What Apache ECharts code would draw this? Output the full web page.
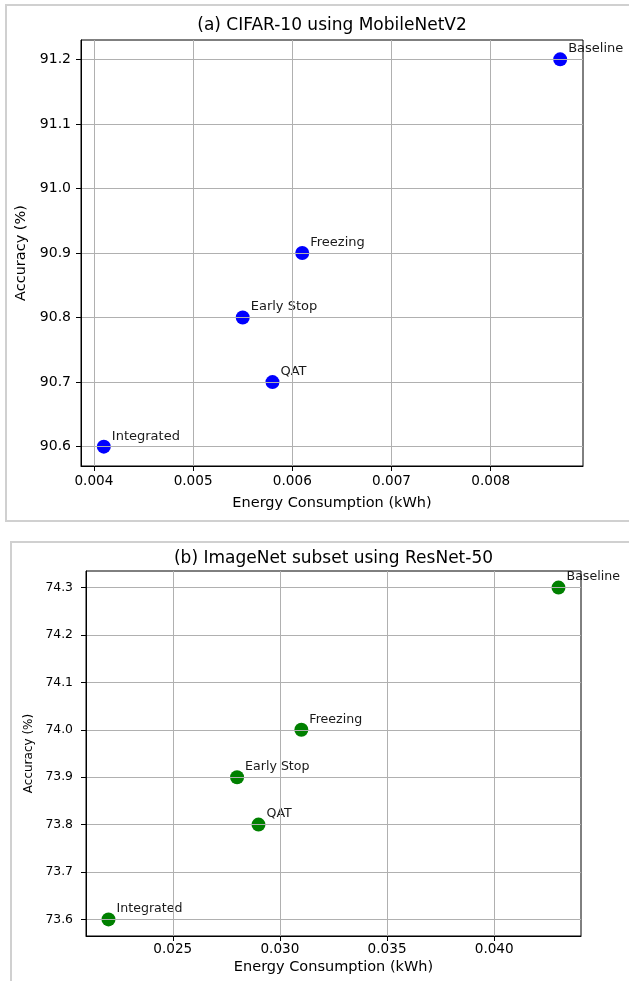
<!DOCTYPE html>
<html>
<head>
<meta charset="utf-8">
<script src="https://cdn.jsdelivr.net/npm/echarts@6/dist/echarts.min.js"></script>
<style>
html,body{margin:0;padding:0;background:#fff;}
#chart{width:629px;height:981px;}
</style>
</head>
<body>
<div id="chart"></div>
<script>
const methods = ['Baseline', 'Freezing', 'Early Stop', 'QAT', 'Integrated'];
const cifarEnergy = [0.0087, 0.0061, 0.0055, 0.0058, 0.0041];
const cifarAcc = [91.2, 90.9, 90.8, 90.7, 90.6];
const imagenetEnergy = [0.043, 0.031, 0.028, 0.029, 0.022];
const imagenetAcc = [74.3, 74.0, 73.9, 73.8, 73.6];

const cifarXTicks = [0.004, 0.005, 0.006, 0.007, 0.008];
const cifarYTicks = [90.6, 90.7, 90.8, 90.9, 91.0, 91.1, 91.2];
const imagenetXTicks = [0.025, 0.030, 0.035, 0.040];
const imagenetYTicks = [73.6, 73.7, 73.8, 73.9, 74.0, 74.1, 74.2, 74.3];

const titleA = '(a) CIFAR-10 using MobileNetV2';
const titleB = '(b) ImageNet subset using ResNet-50';
const xName = 'Energy Consumption (kWh)';
const yName = 'Accuracy (%)';

const FONT = 'DejaVu Sans';

function pts(xs, ys) {
  return xs.map((x, i) => ({ value: [x, ys[i]], name: methods[i] }));
}

function xAxis(idx, min, max, ticks, labelSize, labelMargin, nameGap, nameSize) {
  return {
    type: 'value', gridIndex: idx, min: min, max: max, z: 5,
    name: xName, nameLocation: 'middle', nameGap: nameGap,
    nameTextStyle: { fontFamily: FONT, fontSize: nameSize, color: '#000' },
    axisLine: { show: true, onZero: false, lineStyle: { color: '#000', width: 1 } },
    axisTick: { show: true, length: 5, lineStyle: { color: '#000', width: 1 }, customValues: ticks },
    axisLabel: { fontFamily: FONT, fontSize: labelSize, color: '#000', margin: labelMargin,
      customValues: ticks, formatter: v => Number(v).toFixed(3) },
    splitLine: { show: true, lineStyle: { color: '#b0b0b0', width: 1 }, customValues: ticks }
  };
}
function yAxis(idx, min, max, ticks, labelSize, labelMargin, nameGap, nameSize) {
  return {
    type: 'value', gridIndex: idx, min: min, max: max, z: 5,
    name: yName, nameLocation: 'middle', nameGap: nameGap,
    nameTextStyle: { fontFamily: FONT, fontSize: nameSize, color: '#000' },
    axisLine: { show: true, onZero: false, lineStyle: { color: '#000', width: 1 } },
    axisTick: { show: true, length: 5, lineStyle: { color: '#000', width: 1 }, customValues: ticks },
    axisLabel: { fontFamily: FONT, fontSize: labelSize, color: '#000', margin: labelMargin,
      customValues: ticks, formatter: v => Number(v).toFixed(1) },
    splitLine: { show: true, lineStyle: { color: '#b0b0b0', width: 1 }, customValues: ticks }
  };
}
function series(idx, data, color, labelSize) {
  return {
    type: 'scatter', xAxisIndex: idx, yAxisIndex: idx, z: 2,
    symbol: 'circle', symbolSize: 14,
    itemStyle: { color: color, opacity: 1 },
    data: data,
    label: {
      show: true, formatter: p => p.name, position: [15, 3],
      align: 'left', verticalAlign: 'bottom',
      fontFamily: FONT, fontSize: labelSize, color: '#1a1a1a'
    },
    emphasis: { disabled: true }
  };
}

const chart = echarts.init(document.getElementById('chart'), null, { renderer: 'canvas' });
chart.setOption({
  animation: false,
  backgroundColor: '#fff',
  graphic: [
    { type: 'rect', shape: { x: 6, y: 5, width: 660, height: 516 },
      style: { fill: 'none', stroke: '#d0d0d0', lineWidth: 2 }, z: 0 },
    { type: 'rect', shape: { x: 11, y: 542, width: 660, height: 500 },
      style: { fill: 'none', stroke: '#d0d0d0', lineWidth: 2 }, z: 0 }
  ],
  title: [
    { text: titleA, left: 332, top: 17.5, textAlign: 'center', padding: 0,
      textStyle: { fontFamily: FONT, fontSize: 17, fontWeight: 'normal', color: '#000' } },
    { text: titleB, left: 333.5, top: 550, textAlign: 'center', padding: 0,
      textStyle: { fontFamily: FONT, fontSize: 17, fontWeight: 'normal', color: '#000' } }
  ],
  grid: [
    { left: 81, top: 40, width: 502, height: 426, show: true, borderColor: '#000', borderWidth: 1, backgroundColor: 'transparent' },
    { left: 86, top: 571, width: 495, height: 365, show: true, borderColor: '#000', borderWidth: 1, backgroundColor: 'transparent' }
  ],
  xAxis: [
    xAxis(0, 0.00387, 0.00893, cifarXTicks, 13.6, 8, 30, 14.5),
    xAxis(1, 0.02095, 0.04405, imagenetXTicks, 13.6, 6.5, 24, 14.5)
  ],
  yAxis: [
    yAxis(0, 90.57, 91.23, cifarYTicks, 14, 10, 45, 14.5),
    yAxis(1, 73.565, 74.335, imagenetYTicks, 12.4, 13, 49, 12)
  ],
  series: [
    series(0, pts(cifarEnergy, cifarAcc), '#0000ff', 13),
    series(1, pts(imagenetEnergy, imagenetAcc), '#008000', 12.6)
  ]
});
</script>
</body>
</html>
